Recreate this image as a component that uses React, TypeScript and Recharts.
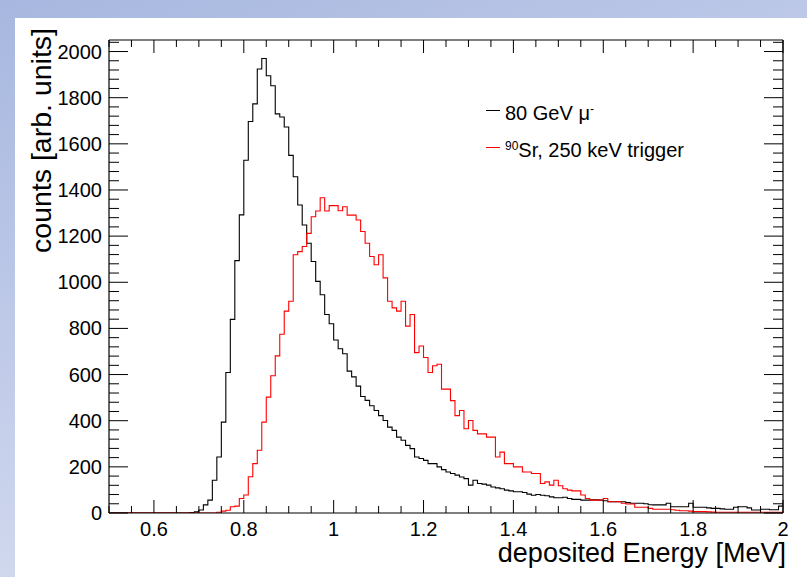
import React from "react";
import { LineChart, Line, XAxis, YAxis, Legend } from "recharts";

// Histogram binning (bin lower edges, MeV)
const BIN_LOW = 0.5;
const BIN_WIDTH = 0.01;
const X_MAX = 2.0;

// 80 GeV muons, counts per 0.01 MeV bin from 0.50 to 1.99
const muonCounts = [
  0, 0, 0, 0, 0, 0, 0, 0, 0, 0, 0, 0, 0, 0, 0, 0, 0, 0, 2, 5,
  13, 35, 56, 142, 243, 394, 609, 839, 1094, 1292,
  1529, 1697, 1773, 1924, 1970, 1895, 1852, 1730, 1716, 1673,
  1550, 1457, 1335, 1248, 1169, 1090, 1004, 946, 860, 820,
  750, 712, 690, 615, 590, 550, 505, 488, 465, 444,
  422, 401, 372, 358, 329, 315, 293, 279, 243, 236,
  228, 214, 214, 200, 188, 178, 171, 164, 156, 149,
  121, 142, 128, 125, 121, 113, 109, 105, 99, 96,
  92, 92, 89, 82, 77, 80, 77, 75, 70, 66,
  66, 68, 63, 59, 59, 56, 56, 57, 57, 56,
  53, 49, 49, 49, 49, 45, 42, 42, 42, 40,
  36, 35, 35, 35, 42, 27, 27, 27, 27, 42,
  25, 25, 25, 22, 20, 20, 18, 16, 16, 25,
  27, 27, 22, 13, 13, 16, 16, 14, 14, 30,
];

// 90Sr with 250 keV trigger, counts per 0.01 MeV bin from 0.50 to 1.99
const srCounts = [
  0, 0, 0, 0, 0, 0, 0, 0, 0, 0, 0, 0, 0, 0, 0, 0, 0, 0, 0, 0,
  0, 0, 0, 0, 3, 8, 12, 27, 30, 63,
  78, 157, 214, 272, 394, 502, 595, 681, 775, 875,
  918, 1119, 1133, 1155, 1212, 1284, 1309, 1366, 1309, 1332,
  1332, 1310, 1327, 1291, 1291, 1270, 1220, 1169, 1112, 1076,
  1119, 1019, 918, 889, 875, 918, 810, 860, 695, 724,
  674, 609, 638, 645, 537, 537, 487, 422, 444, 365,
  401, 358, 343, 343, 329, 329, 243, 264, 214, 214,
  200, 200, 178, 178, 171, 171, 128, 135, 121, 142,
  118, 105, 99, 96, 96, 78, 63, 56, 56, 56,
  63, 49, 49, 49, 42, 39, 39, 25, 25, 25,
  20, 16, 16, 16, 16, 14, 12, 10, 10, 8,
  6, 6, 6, 5, 4, 3, 3, 3, 3, 3,
  3, 3, 3, 3, 3, 3, 3, 3, 3, 3,
];

const xMajorTicks = [0.6, 0.8, 1.0, 1.2, 1.4, 1.6, 1.8, 2.0];
const xTicks = [
  0.5, 0.55, 0.6, 0.65, 0.7, 0.75, 0.8, 0.85, 0.9, 0.95, 1.0, 1.05, 1.1, 1.15, 1.2, 1.25,
  1.3, 1.35, 1.4, 1.45, 1.5, 1.55, 1.6, 1.65, 1.7, 1.75, 1.8, 1.85, 1.9, 1.95, 2.0,
];
const yMajorTicks = [0, 200, 400, 600, 800, 1000, 1200, 1400, 1600, 1800, 2000];
const yTicks = [
  0, 40, 80, 120, 160, 200, 240, 280, 320, 360, 400, 440, 480, 520, 560, 600, 640, 680, 720,
  760, 800, 840, 880, 920, 960, 1000, 1040, 1080, 1120, 1160, 1200, 1240, 1280, 1320, 1360,
  1400, 1440, 1480, 1520, 1560, 1600, 1640, 1680, 1720, 1760, 1800, 1840, 1880, 1920, 1960,
  2000, 2040,
];
const Y_MAX = 2050;

const seriesNames = { mu: "80 GeV μ", sr: "Sr, 250 keV trigger" };

const data = muonCounts.map((v, i) => ({
  e: Math.round((BIN_LOW + i * BIN_WIDTH) * 100) / 100,
  mu: v,
  sr: srCounts[i],
}));
data.push({ e: X_MAX, mu: muonCounts[muonCounts.length - 1], sr: srCounts[srCounts.length - 1] });

const FONT = '"Liberation Sans", Arial, Helvetica, sans-serif';
const isMajor = (v: number, list: number[]) => list.some((m) => Math.abs(m - v) < 1e-6);
const fmtX = (v: number) => String(Math.round(v * 10) / 10);

const BottomTick = (props: any) => {
  const { x, y, payload } = props;
  const v = payload.value;
  const major = isMajor(v, xMajorTicks);
  return (
    <g>
      <line x1={x} x2={x} y1={y} y2={y - (major ? 13 : 7)} stroke="#000" strokeWidth={1} />
      {major && (
        <text x={x} y={y + 23} textAnchor="middle" fontSize={20} fontFamily={FONT} fill="#000">
          {fmtX(v)}
        </text>
      )}
    </g>
  );
};
const TopTick = (props: any) => {
  const { x, y, payload } = props;
  const major = isMajor(payload.value, xMajorTicks);
  return <line x1={x} x2={x} y1={y} y2={y + (major ? 13 : 7)} stroke="#000" strokeWidth={1} />;
};
const LeftTick = (props: any) => {
  const { x, y, payload } = props;
  const v = payload.value;
  const major = isMajor(v, yMajorTicks);
  return (
    <g>
      <line x1={x} x2={x + (major ? 19 : 10)} y1={y} y2={y} stroke="#000" strokeWidth={1} />
      {major && (
        <text x={x - 7} y={y + 7} textAnchor="end" fontSize={20} fontFamily={FONT} fill="#000">
          {v}
        </text>
      )}
    </g>
  );
};
const RightTick = (props: any) => {
  const { x, y, payload } = props;
  const major = isMajor(payload.value, yMajorTicks);
  return <line x1={x} x2={x - (major ? 19 : 10)} y1={y} y2={y} stroke="#000" strokeWidth={1} />;
};

const LegendBox = () => (
  <div style={{ fontFamily: FONT, fontSize: 20, color: "#000", lineHeight: "22px" }}>
    <div style={{ display: "flex", alignItems: "center", height: 37 }}>
      <span style={{ display: "inline-block", width: 14, height: 1.3, background: "#000", marginRight: 5 }} />
      <span>
        {seriesNames.mu}
        <sup style={{ fontSize: 12, verticalAlign: "7px" }}>-</sup>
      </span>
    </div>
    <div style={{ display: "flex", alignItems: "center", height: 37 }}>
      <span style={{ display: "inline-block", width: 14, height: 1.3, background: "#ff0000", marginRight: 5 }} />
      <span>
        <sup style={{ fontSize: 12, verticalAlign: "7px" }}>90</sup>
        {seriesNames.sr}
      </span>
    </div>
  </div>
);

const axisLineStyle = { stroke: "#000", strokeWidth: 1.2 };

export default function App() {
  return (
    <div
      style={{
        position: "absolute",
        left: 0,
        top: 0,
        width: 807,
        height: 577,
        overflow: "hidden",
        background: "linear-gradient(160deg, #a7b7df 0%, #c3cdea 45%, #e4e8f3 100%)",
      }}
    >
      <div style={{ position: "absolute", left: 15, top: 18, right: 0, bottom: 0, background: "#fff" }} />
      <div style={{ position: "absolute", left: 0, top: 0 }}>
        <LineChart width={807} height={577} data={data} margin={{ top: 39, right: 23, bottom: 63, left: 108 }}>
          <XAxis
            xAxisId="bottom"
            dataKey="e"
            type="number"
            domain={[BIN_LOW, X_MAX]}
            ticks={xTicks}
            interval={0}
            height={1}
            tickSize={0}
            tickMargin={0}
            tickLine={false}
            axisLine={axisLineStyle}
            tick={<BottomTick />}
            allowDataOverflow
          />
          <XAxis
            xAxisId="top"
            orientation="top"
            dataKey="e"
            type="number"
            domain={[BIN_LOW, X_MAX]}
            ticks={xTicks}
            interval={0}
            height={1}
            tickSize={0}
            tickMargin={0}
            tickLine={false}
            axisLine={axisLineStyle}
            tick={<TopTick />}
            allowDataOverflow
          />
          <YAxis
            yAxisId="left"
            type="number"
            domain={[0, Y_MAX]}
            ticks={yTicks}
            interval={0}
            width={1}
            tickSize={0}
            tickMargin={0}
            tickLine={false}
            axisLine={axisLineStyle}
            tick={<LeftTick />}
            allowDataOverflow
          />
          <YAxis
            yAxisId="right"
            orientation="right"
            type="number"
            domain={[0, Y_MAX]}
            ticks={yTicks}
            interval={0}
            width={1}
            tickSize={0}
            tickMargin={0}
            tickLine={false}
            axisLine={axisLineStyle}
            tick={<RightTick />}
            allowDataOverflow
          />
          <Line
            xAxisId="bottom"
            yAxisId="left"
            dataKey="mu"
            name={seriesNames.mu}
            type="stepAfter"
            stroke="#000"
            strokeWidth={1.1}
            dot={false}
            activeDot={false}
            isAnimationActive={false}
          />
          <Line
            xAxisId="top"
            yAxisId="right"
            dataKey="sr"
            name={seriesNames.sr}
            type="stepAfter"
            stroke="#ff0000"
            strokeWidth={1.1}
            dot={false}
            activeDot={false}
            isAnimationActive={false}
          />
          <Legend
            layout="vertical"
            align="center"
            verticalAlign="middle"
            content={<LegendBox />}
            wrapperStyle={{ position: "absolute", left: 486, top: 92, width: 280, height: 80 }}
          />
        </LineChart>
      </div>
      <svg width={807} height={577} style={{ position: "absolute", left: 0, top: 0, pointerEvents: "none" }}>
        <text x={786} y={562} textAnchor="end" fontSize={27} fontFamily={FONT} fill="#000">
          deposited Energy [MeV]
        </text>
        <text
          transform="translate(51, 28) rotate(-90)"
          textAnchor="end"
          fontSize={28.5}
          fontFamily={FONT}
          fill="#000"
        >
          counts [arb. units]
        </text>
      </svg>
    </div>
  );
}
